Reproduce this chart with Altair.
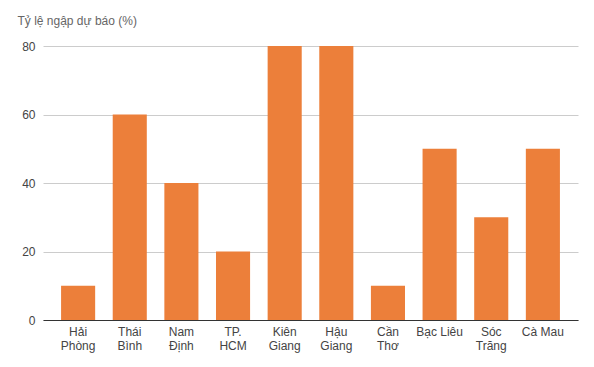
import altair as alt
import pandas as pd

categories = ["Hải Phòng", "Thái Bình", "Nam Định", "TP. HCM", "Kiên Giang",
              "Hậu Giang", "Cần Thơ", "Bạc Liêu", "Sóc Trăng", "Cà Mau"]
values = [10, 60, 40, 20, 80, 80, 10, 50, 30, 50]
y_ticks = [0, 20, 40, 60, 80]
title_text = "Tỷ lệ ngập dự báo (%)"

df = pd.DataFrame({"cat": categories, "val": values})

font = "Liberation Sans"

chart = alt.Chart(df).mark_bar(color="#ec7f3a").encode(
    x=alt.X("cat:N", sort=categories, title=None,
            scale=alt.Scale(paddingInner=0.34, paddingOuter=0.35),
            axis=alt.Axis(labelAngle=0, ticks=False, domain=True, domainColor="#333333",
                          grid=False,
                          labelFont=font, labelFontSize=12, labelColor="#444444",
                          labelPadding=6, labelLineHeight=14,
                          labelExpr="indexof(['Bạc Liêu','Cà Mau'], datum.label) >= 0 ? datum.label : split(datum.label, ' ')")),
    y=alt.Y("val:Q", title=title_text,
            scale=alt.Scale(domain=[0, 80], nice=False),
            axis=alt.Axis(values=y_ticks, ticks=False, domain=False, grid=True,
                          gridColor="#cccccc", labelFont=font, labelFontSize=12,
                          labelColor="#444444", labelPadding=8,
                          titleAngle=0, titleAlign="left", titleBaseline="alphabetic",
                          titleX=-26, titleY=-22, titleFont=font, titleFontSize=12,
                          titleFontWeight="normal", titleColor="#666666")),
).properties(
    width=535, height=274,
    background="white",
    autosize=alt.AutoSizeParams(type="none"),
    padding={"left": 35, "top": 38, "right": 8, "bottom": 40},
).configure_view(stroke="transparent", strokeWidth=0)

chart.save("out.html", embed_options={"renderer": "svg", "actions": False})
